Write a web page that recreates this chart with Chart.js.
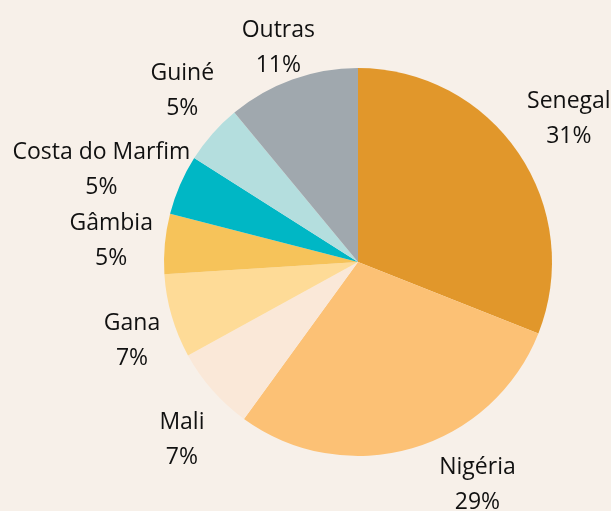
<!DOCTYPE html>
<html>
<head>
<meta charset="utf-8">
<script src="https://cdn.jsdelivr.net/npm/chart.js@4"></script>
<style>
  body { margin: 0; background: #F7F0E9; }
  #wrap { width: 611px; height: 511px; }
</style>
</head>
<body>
<div id="wrap"><canvas id="myChart" width="611" height="511"></canvas></div>
<script>
// dados
let paises = ['Senegal', 'Nigéria', 'Mali', 'Gana', 'Gâmbia', 'Costa do Marfim', 'Guiné', 'Outras']
let percentuais = [31, 29, 7, 7, 5, 5, 5, 11]
let cores = ['#E1972B', '#FCC175', '#FAE8D8', '#FEDB97', '#F6C35A', '#00B7C5', '#B4DEDE', '#A0A8AE']

let fonte = '23px "Open Sans"'
let alturaLinha = 35
let folga = 12
// pequenos ajustes dos rotulos (px), na ordem dos paises
let ajusteX = [0, 54, 1, 0, 0, -4, 10, 0]
let ajusteY = [0, -2, 22, 13, 2, 17, -7, 7]

// rotulos fora da pizza
const rotulos = {
    id: 'rotulos',
    afterDatasetsDraw(chart) {
        const ctx = chart.ctx
        const meta = chart.getDatasetMeta(0)
        ctx.save()
        ctx.font = fonte
        ctx.fillStyle = '#111111'
        ctx.textAlign = 'center'
        ctx.textBaseline = 'middle'
        meta.data.forEach(function(arc, i) {
            let p = arc.getProps(['x', 'y', 'startAngle', 'endAngle', 'outerRadius'], true)
            let meio = (p.startAngle + p.endAngle) / 2
            let cx = Math.cos(meio), cy = Math.sin(meio)
            let linhas = [paises[i], percentuais[i] + '%']
            let w = Math.max(ctx.measureText(linhas[0]).width, ctx.measureText(linhas[1]).width)
            let h = alturaLinha + 20
            let ax = Math.abs(cx) < 0.001 ? 1e9 : (w / 2) / Math.abs(cx)
            let ay = Math.abs(cy) < 0.001 ? 1e9 : (h / 2) / Math.abs(cy)
            let d = p.outerRadius + folga + Math.min(ax, ay)
            let x = p.x + cx * d + ajusteX[i]
            let y = p.y + cy * d + ajusteY[i]
            ctx.fillText(linhas[0], x, y - alturaLinha / 2)
            ctx.fillText(linhas[1], x, y + alturaLinha / 2)
        })
        ctx.restore()
    }
}

const ctx = document.getElementById('myChart').getContext('2d')
let myChart = new Chart(ctx, {
    type: 'pie',
    data: {
        labels: paises,
        datasets: [{
            data: percentuais,
            backgroundColor: cores,
            borderWidth: 0,
            hoverOffset: 0
        }]
    },
    options: {
        responsive: false,
        animation: false,
        layout: { padding: { left: 164, right: 59, top: 68, bottom: 55 } },
        plugins: {
            legend: { display: false },
            tooltip: { enabled: false }
        }
    },
    plugins: [rotulos]
})
</script>
</body>
</html>
